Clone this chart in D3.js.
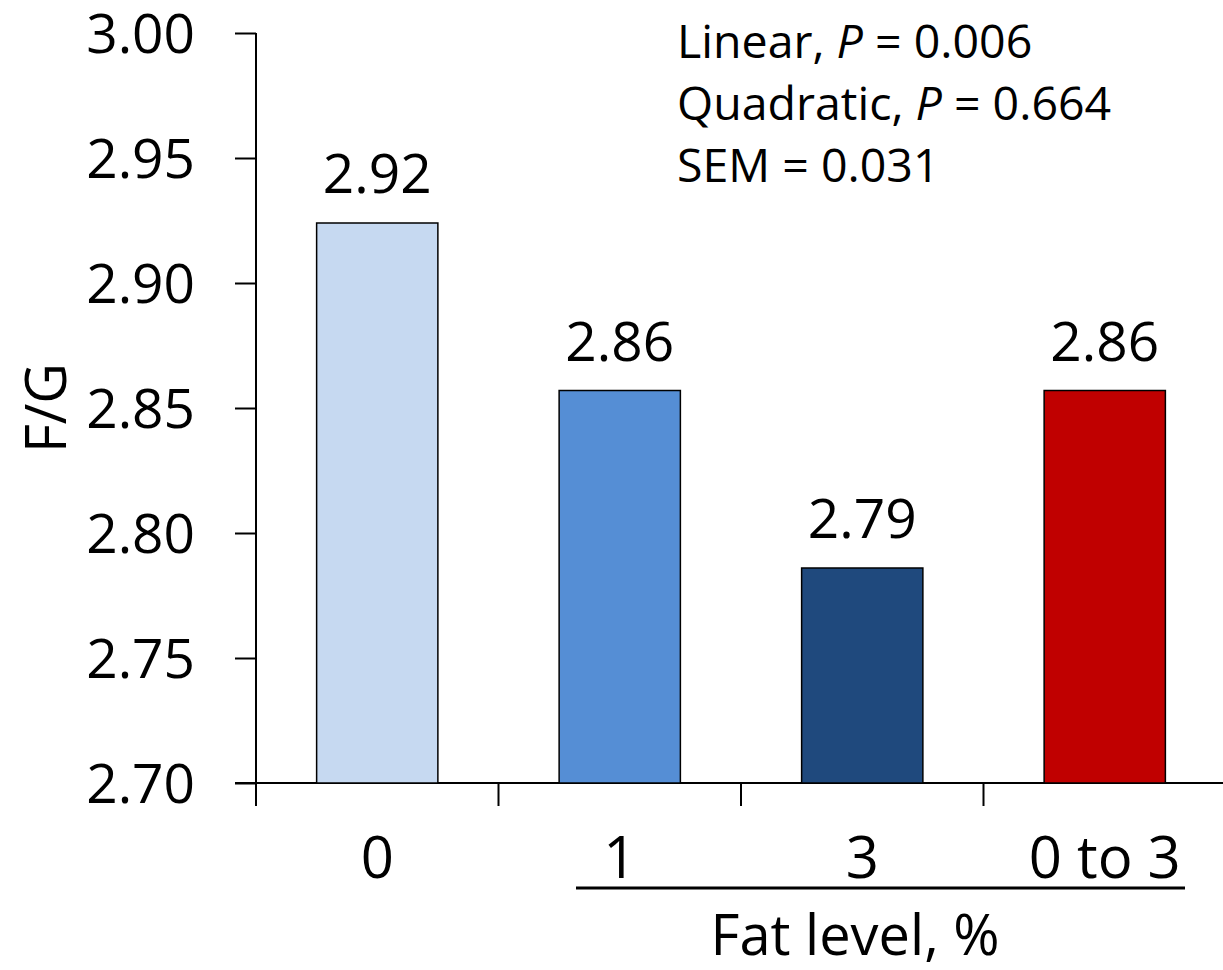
<!DOCTYPE html>
<html>
<head>
<meta charset="utf-8">
<style>
  body { margin: 0; background: #fff; }
  text { font-family: 'Open Sans', 'Noto Sans', sans-serif; fill: #000; }
</style>
</head>
<body>
<svg width="1223" height="970"></svg>
<script src="https://cdn.jsdelivr.net/npm/d3@7"></script>
<script>
// data
const levels = ['0', '1', '3', '0 to 3'];
const fg = [2.924, 2.857, 2.786, 2.857];
const barLabels = ['2.92', '2.86', '2.79', '2.86'];
const barColors = ['#C6D9F1', '#558ED5', '#1F497D', '#C00000'];
const yTicks = [2.70, 2.75, 2.80, 2.85, 2.90, 2.95, 3.00];
const stats = [
    ['Linear, ', 'P', ' = 0.006'],
    ['Quadratic, ', 'P', ' = 0.664'],
    ['SEM = 0.031', '', '']
];

const svg = d3.select('svg');
const plotLeft = 256, plotTop = 33, plotBottom = 783, plotRight = 1226;

const x = d3.scaleBand()
    .domain(levels)
    .range([plotLeft, plotRight])
    .paddingInner(0.5)
    .paddingOuter(0.25);

const y = d3.scaleLinear()
    .domain([2.70, 3.00])
    .range([plotBottom, plotTop]);

// y axis
const yAxis = svg.append('g')
    .attr('transform', `translate(${plotLeft},0)`)
    .call(d3.axisLeft(y).tickValues(yTicks).tickFormat(d3.format('.2f'))
        .tickSize(21).tickSizeOuter(0).tickPadding(40));
yAxis.select('.domain').remove();
yAxis.selectAll('line').attr('stroke', '#000').attr('stroke-width', 2);
yAxis.selectAll('text')
    .style('font-size', '55px')
    .attr('dy', '0.36em');
yAxis.append('line')
    .attr('x1', 0).attr('x2', 0)
    .attr('y1', plotTop).attr('y2', plotBottom + 23)
    .attr('stroke', '#000').attr('stroke-width', 2);

// x axis line + boundary ticks
const gap = (x.step() - x.bandwidth()) / 2;
svg.append('line')
    .attr('x1', plotLeft - 21).attr('x2', plotRight)
    .attr('y1', plotBottom).attr('y2', plotBottom)
    .attr('stroke', '#000').attr('stroke-width', 2);
svg.append('g').selectAll('line')
    .data(levels.slice(1))
    .join('line')
    .attr('x1', d => x(d) - gap).attr('x2', d => x(d) - gap)
    .attr('y1', plotBottom).attr('y2', plotBottom + 23)
    .attr('stroke', '#000').attr('stroke-width', 2);

// bars
svg.append('g').selectAll('rect')
    .data(levels)
    .join('rect')
    .attr('x', d => x(d))
    .attr('width', x.bandwidth())
    .attr('y', (d, i) => y(fg[i]))
    .attr('height', (d, i) => plotBottom - y(fg[i]))
    .attr('fill', (d, i) => barColors[i])
    .attr('stroke', '#000')
    .attr('stroke-width', 1.5);

svg.append('g').selectAll('text')
    .data(levels)
    .join('text')
    .attr('x', d => x(d) + x.bandwidth() / 2)
    .attr('y', (d, i) => y(fg[i]) - 30)
    .attr('text-anchor', 'middle')
    .style('font-size', '55px')
    .text((d, i) => barLabels[i]);

// category labels
svg.append('g').selectAll('text')
    .data(levels)
    .join('text')
    .attr('x', d => x(d) + x.bandwidth() / 2)
    .attr('y', 878)
    .attr('text-anchor', 'middle')
    .style('font-size', '58px')
    .text(d => d);

svg.append('line')
    .attr('x1', 576).attr('x2', 1185)
    .attr('y1', 888).attr('y2', 888)
    .attr('stroke', '#000').attr('stroke-width', 3);

svg.append('text')
    .attr('x', 855).attr('y', 955)
    .attr('text-anchor', 'middle')
    .style('font-size', '56px')
    .text('Fat level, %');

svg.append('text')
    .attr('transform', 'translate(66,408) rotate(-90)')
    .attr('text-anchor', 'middle')
    .style('font-size', '56px')
    .text('F/G');

// stats box
const st = svg.append('g').selectAll('text')
    .data(stats)
    .join('text')
    .attr('x', 677)
    .attr('y', (d, i) => 58 + i * 62)
    .style('font-size', '46.5px');
st.append('tspan').text(d => d[0]);
st.append('tspan').style('font-style', 'italic').text(d => d[1]);
st.append('tspan').text(d => d[2]);
</script>
</body>
</html>
